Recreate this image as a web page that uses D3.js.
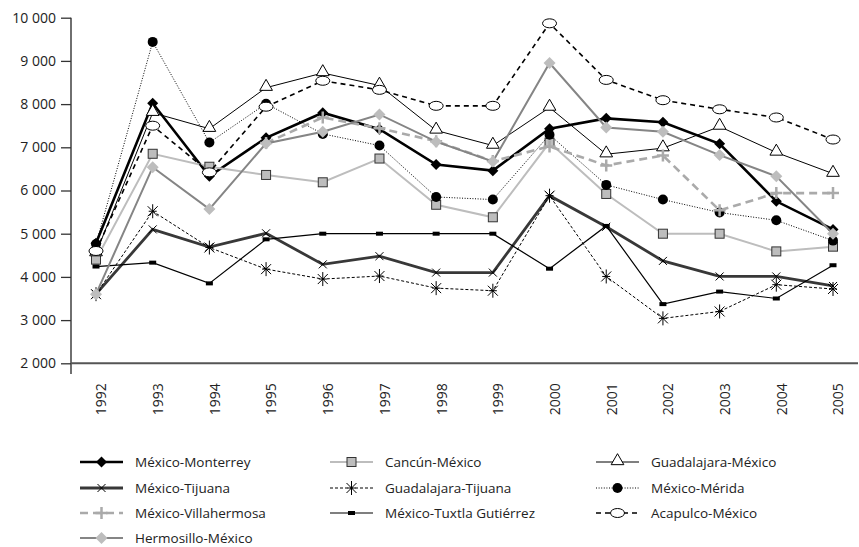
<!DOCTYPE html>
<html><head><meta charset="utf-8">
<script src="https://cdn.jsdelivr.net/npm/d3@7"></script>
<style>
html,body{margin:0;padding:0;background:#fff;}
svg{display:block;font-family:"Open Sans",sans-serif;}
</style></head>
<body><svg id="c" width="859" height="547"></svg>
<script>
const years = [1992,1993,1994,1995,1996,1997,1998,1999,2000,2001,2002,2003,2004,2005];
const yTicks = [2000,3000,4000,5000,6000,7000,8000,9000,10000];

const monterrey  = [4780,8020,6330,7220,7800,7420,6600,6460,7430,7670,7580,7080,5750,5100];
const cancun     = [4400,6850,6550,6360,6190,6740,5670,5380,7110,5920,5000,5000,4590,4700];
const guadMex    = [4550,7800,7430,8380,8720,8430,7390,7040,7920,6840,6980,7480,6880,6390];
const tijuana    = [3600,5100,4690,5010,4290,4480,4100,4100,5880,5160,4370,4010,4010,3790];
const guadTij    = [3600,5520,4680,4180,3950,4020,3740,3680,5880,4010,3040,3200,3820,3720];
const merida     = [4760,9440,7110,8010,7310,7040,5850,5790,7290,6130,5790,5490,5310,4840];
const villa      = [null,null,null,7100,7690,7440,7140,6680,7020,6580,6810,5540,5940,5940];
const tuxtla     = [4240,4330,3850,4870,5000,5000,5000,5000,4190,5180,3370,3660,3500,4270];
const acapulco   = [4600,7500,6420,7940,8540,8330,7960,7960,9870,8560,8090,7880,7690,7180];
const hermosillo = [3600,6540,5570,7090,7360,7760,7130,6670,8950,7460,7360,6820,6330,5000];

const names = ["México-Monterrey","Cancún-México","Guadalajara-México","México-Tijuana","Guadalajara-Tijuana","México-Mérida","México-Villahermosa","México-Tuxtla Gutiérrez","Acapulco-México","Hermosillo-México"];
const values = [monterrey,cancun,guadMex,tijuana,guadTij,merida,villa,tuxtla,acapulco,hermosillo];

const styles = [
  {stroke:"#000", w:2.6, dash:null, marker:"diamond", mfill:"#000", mstroke:"none"},
  {stroke:"#bdbdbd", w:2, dash:null, marker:"square", mfill:"#bdbdbd", mstroke:"#333"},
  {stroke:"#000", w:1, dash:null, marker:"triangle", mfill:"#fff", mstroke:"#000"},
  {stroke:"#383838", w:2.8, dash:null, marker:"times", mfill:"none", mstroke:"#000"},
  {stroke:"#000", w:1, dash:"3,2", marker:"asterisk", mfill:"none", mstroke:"#000"},
  {stroke:"#000", w:1, dash:"1,1.6", marker:"circle", mfill:"#000", mstroke:"none"},
  {stroke:"#aaaaaa", w:2.6, dash:"8,5", marker:"plus", mfill:"none", mstroke:"#aaaaaa"},
  {stroke:"#000", w:1.2, dash:null, marker:"rect", mfill:"#000", mstroke:"none"},
  {stroke:"#000", w:1.6, dash:"5,4", marker:"ellipse", mfill:"#fff", mstroke:"#000"},
  {stroke:"#858585", w:2, dash:null, marker:"hdiamond", mfill:"#bdbdbd", mstroke:"none"}
];

const svg = d3.select("#c");
const x = d3.scalePoint().domain(years).range([96, 833]);
const y = d3.scaleLinear().domain([2000, 10000]).range([363.3, 17.7]);
const fmt = d3.formatLocale({decimal:",", thousands:" ", grouping:[3], currency:["",""]}).format(",d");

// Y axis
const yAxis = svg.append("g").attr("transform","translate(71,0)")
  .call(d3.axisLeft(y).tickValues(yTicks).tickSize(10).tickPadding(5).tickFormat(fmt));
yAxis.select(".domain").remove();
yAxis.selectAll(".tick line").attr("stroke","#333").attr("stroke-width",1.3);
yAxis.selectAll(".tick text").attr("font-size",14).attr("fill","#222").attr("font-family","'Open Sans',sans-serif");
svg.append("line").attr("x1",71).attr("x2",71).attr("y1",y(10000)).attr("y2",374)
  .attr("stroke","#333").attr("stroke-width",1.4);

// X axis
const xAxis = svg.append("g").attr("transform","translate(0,"+y(2000)+")")
  .call(d3.axisBottom(x).tickSize(0).tickFormat(d=>String(d)));
xAxis.select(".domain").remove();
xAxis.selectAll(".tick text").attr("font-size",14).attr("fill","#222")
  .attr("font-family","'Open Sans',sans-serif")
  .attr("text-anchor","end").attr("dy","0.35em")
  .attr("transform","translate(5,20) rotate(-90)").attr("y",0).attr("x",0);
svg.append("line").attr("x1",71).attr("x2",858).attr("y1",y(2000)).attr("y2",y(2000))
  .attr("stroke","#555").attr("stroke-width",2);

function drawMarker(g, type, st, cx, cy) {
  const t = g.append("g").attr("transform",`translate(${cx},${cy})`);
  if (type==="diamond") t.append("path").attr("d","M0,-5.5L5.5,0L0,5.5L-5.5,0Z").attr("fill",st.mfill);
  else if (type==="hdiamond") t.append("path").attr("d","M0,-6L6,0L0,6L-6,0Z").attr("fill",st.mfill);
  else if (type==="square") t.append("rect").attr("x",-4.5).attr("y",-4.5).attr("width",9).attr("height",9).attr("fill",st.mfill).attr("stroke",st.mstroke).attr("stroke-width",1);
  else if (type==="triangle") t.append("path").attr("d",d3.symbol(d3.symbolTriangle,70)()).attr("transform","translate(0,-1)").attr("fill",st.mfill).attr("stroke",st.mstroke).attr("stroke-width",1);
  else if (type==="times") t.append("path").attr("d","M-4,-4L4,4M-4,4L4,-4").attr("stroke",st.mstroke).attr("stroke-width",1);
  else if (type==="asterisk") t.append("path").attr("d","M0,-7L0,7M-5,-5L5,5M-5,5L5,-5M-4,0L4,0").attr("stroke",st.mstroke).attr("stroke-width",1);
  else if (type==="circle") t.append("circle").attr("r",5).attr("fill",st.mfill);
  else if (type==="plus") t.append("path").attr("d","M0,-6L0,6M-6,0L6,0").attr("stroke",st.mstroke).attr("stroke-width",2.5);
  else if (type==="rect") t.append("rect").attr("x",-3.5).attr("y",-2).attr("width",7).attr("height",4).attr("fill",st.mfill);
  else if (type==="ellipse") t.append("ellipse").attr("rx",7).attr("ry",4.5).attr("fill",st.mfill).attr("stroke",st.mstroke).attr("stroke-width",1);
}

const line = d3.line().defined(d=>d!=null).x((d,i)=>x(years[i])).y(d=>y(d));
const plot = svg.append("g");
values.forEach((vals, k) => {
  const st = styles[k];
  const g = plot.append("g");
  g.append("path").attr("d", line(vals)).attr("fill","none")
    .attr("stroke", st.stroke).attr("stroke-width", st.w)
    .attr("stroke-dasharray", st.dash).attr("stroke-linejoin","miter");
  vals.forEach((v,i)=> { if (v!=null) drawMarker(g, st.marker, st, x(years[i]), y(v)); });
});

// Legend
const colX = [80, 330, 596];
const rowY = [462, 488, 513, 538];
const lg = svg.append("g");
names.forEach((n,k)=>{
  const c = k % 3, r = Math.floor(k/3);
  const st = styles[k];
  const x0 = colX[c], x1 = x0 + 43, yy = rowY[r];
  const g = lg.append("g");
  g.append("line").attr("x1",x0).attr("x2",x1).attr("y1",yy).attr("y2",yy)
    .attr("stroke",st.stroke).attr("stroke-width",st.w).attr("stroke-dasharray",st.dash);
  drawMarker(g, st.marker, st, (x0+x1)/2, yy);
  g.append("text").attr("x", x1+12).attr("y", yy).attr("dy","0.35em")
    .attr("font-size",13.5).attr("fill","#222").text(n);
});
</script></body></html>
